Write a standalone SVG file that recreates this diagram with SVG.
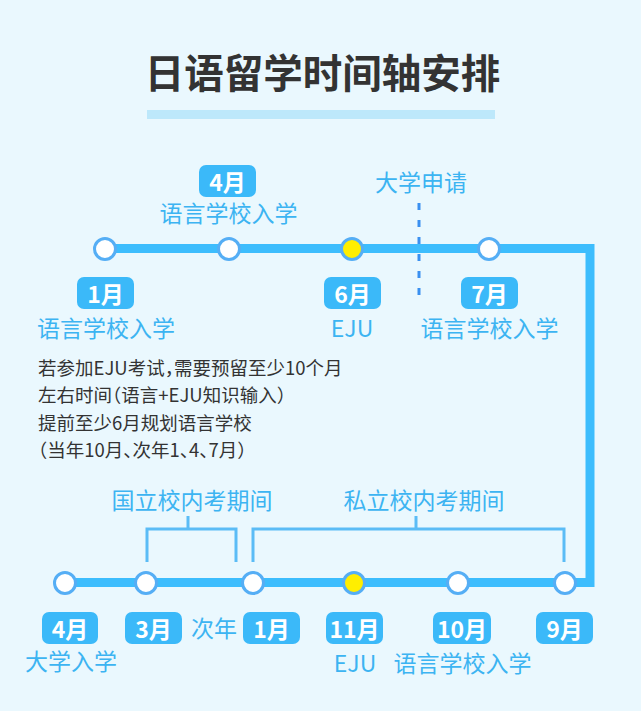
<svg xmlns="http://www.w3.org/2000/svg" width="641" height="711" viewBox="0 0 641 711">
  <defs>
    <style>
      .bg { fill: #eaf8fe; }
      text { font-family: "Noto Sans CJK SC", "Noto Sans", sans-serif; dominant-baseline: central; }
      .title { font-size: 39.5px; font-weight: bold; fill: #333333; text-anchor: middle; }
      .lbl { font-size: 23px; fill: #3cb4f2; text-anchor: middle; }
      .para { font-size: 18.5px; fill: #333333; font-feature-settings: "halt"; }
      .badge rect { fill: #3bb9f9; }
      .badge text { font-size: 23px; font-weight: bold; fill: #ffffff; text-anchor: middle; }
      .node { fill: #ffffff; stroke: #55aef5; stroke-width: 3; }
      .node.eju { fill: #ffee00; }
      .track { fill: none; stroke: #3dbdfd; stroke-width: 9; stroke-linejoin: miter; }
      .bracket { fill: none; stroke: #5bbcf6; stroke-width: 3; }
      .dash { fill: none; stroke: #3a90f0; stroke-width: 3; stroke-dasharray: 7 10; }
    </style>
  </defs>

  <rect class="bg" x="0" y="0" width="641" height="711"/>

  <g id="title">
    <text class="title" x="322.5" y="70">日语留学时间轴安排</text>
    <rect x="147" y="110" width="348" height="9" fill="#bde8fb"/>
  </g>

  <g id="connectors">
    <path class="track" d="M105 248.5 H590 V582.5 H65"/>
    <path class="dash" d="M419 203 V295"/>
    <path class="bracket" d="M147 562 V529 H236 V562 M188 516 V529"/>
    <path class="bracket" d="M253 562 V529 H564 V562 M416 516 V529"/>
  </g>

  <g id="apply">
    <text class="lbl" x="421" y="181">大学申请</text>
  </g>

  <!-- top row -->
  <g id="n-jan">
    <circle class="node" cx="105" cy="249" r="10.5"/>
    <g class="badge"><rect x="77" y="277" width="57" height="32" rx="7"/><text x="105.5" y="293">1月</text></g>
    <text class="lbl" x="106" y="327">语言学校入学</text>
  </g>
  <g id="n-apr">
    <circle class="node" cx="229" cy="249" r="10.5"/>
    <g class="badge"><rect x="199" y="165" width="57" height="32" rx="7"/><text x="227.5" y="181">4月</text></g>
    <text class="lbl" x="228.5" y="212">语言学校入学</text>
  </g>
  <g id="n-jun">
    <circle class="node eju" cx="352" cy="249" r="10.5"/>
    <g class="badge"><rect x="324" y="277" width="57" height="32" rx="7"/><text x="352.5" y="293">6月</text></g>
    <text class="lbl" x="352" y="327">EJU</text>
  </g>
  <g id="n-jul">
    <circle class="node" cx="489" cy="249" r="10.5"/>
    <g class="badge"><rect x="461" y="277" width="57" height="32" rx="7"/><text x="489.5" y="293">7月</text></g>
    <text class="lbl" x="489.5" y="327">语言学校入学</text>
  </g>

  <g id="note">
    <text class="para" x="38" y="367">若参加EJU考试，需要预留至少10个月</text>
    <text class="para" x="38" y="394">左右时间（语言+EJU知识输入）</text>
    <text class="para" x="38" y="421.5">提前至少6月规划语言学校</text>
    <text class="para" x="38" y="449">（当年10月、次年1、4、7月）</text>
  </g>

  <g id="period-national">
    <text class="lbl" x="192" y="499">国立校内考期间</text>
  </g>
  <g id="period-private">
    <text class="lbl" x="424" y="499">私立校内考期间</text>
  </g>

  <!-- bottom row -->
  <g id="b-apr">
    <circle class="node" cx="65" cy="583" r="10.5"/>
    <g class="badge"><rect x="42" y="612" width="56" height="32" rx="7"/><text x="70" y="628">4月</text></g>
    <text class="lbl" x="71" y="660">大学入学</text>
  </g>
  <g id="b-mar">
    <circle class="node" cx="146" cy="583" r="10.5"/>
    <g class="badge"><rect x="125" y="612" width="57" height="32" rx="7"/><text x="153.5" y="628">3月</text></g>
  </g>
  <g id="b-next">
    <text class="lbl" x="214" y="627">次年</text>
  </g>
  <g id="b-jan">
    <circle class="node" cx="253" cy="583" r="10.5"/>
    <g class="badge"><rect x="243" y="612" width="57" height="32" rx="7"/><text x="271.5" y="628">1月</text></g>
  </g>
  <g id="b-nov">
    <circle class="node eju" cx="354" cy="583" r="10.5"/>
    <g class="badge"><rect x="326" y="612" width="57" height="32" rx="7"/><text x="354.5" y="628">11月</text></g>
    <text class="lbl" x="355" y="662">EJU</text>
  </g>
  <g id="b-oct">
    <circle class="node" cx="458" cy="583" r="10.5"/>
    <g class="badge"><rect x="433" y="612" width="58" height="32" rx="7"/><text x="462" y="628">10月</text></g>
    <text class="lbl" x="462.5" y="662">语言学校入学</text>
  </g>
  <g id="b-sep">
    <circle class="node" cx="565" cy="583" r="10.5"/>
    <g class="badge"><rect x="536" y="612" width="57" height="32" rx="7"/><text x="564.5" y="628">9月</text></g>
  </g>
</svg>
